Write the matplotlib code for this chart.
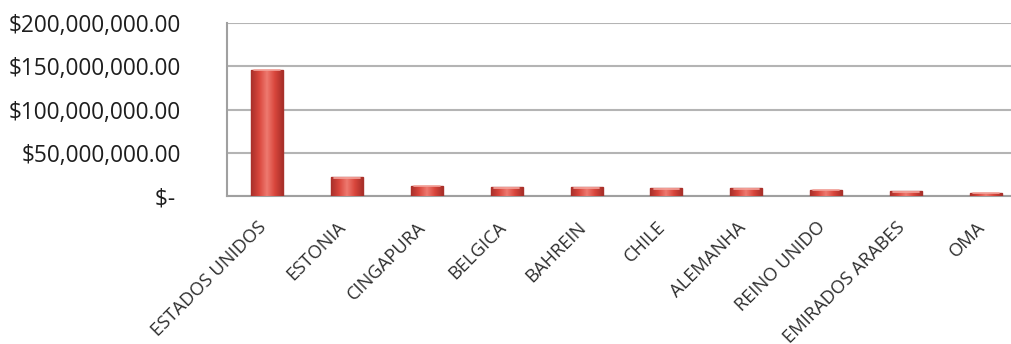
import numpy as np
import matplotlib.pyplot as plt
from matplotlib.colors import LinearSegmentedColormap

paises = ["ESTADOS UNIDOS", "ESTONIA", "CINGAPURA", "BELGICA", "BAHREIN",
          "CHILE", "ALEMANHA", "REINO UNIDO", "EMIRADOS ARABES", "OMA"]
valores = [146e6, 22e6, 12e6, 10.5e6, 10.5e6, 9.5e6, 9e6, 7.5e6, 6e6, 4e6]
yticks = [0, 50e6, 100e6, 150e6, 200e6]
yticklabels = ["$- ", "$50,000,000.00", "$100,000,000.00",
               "$150,000,000.00", "$200,000,000.00"]

plt.rcParams['font.family'] = ['Open Sans', 'DejaVu Sans']

fig = plt.figure(figsize=(10.12, 3.44), dpi=100)
ax = fig.add_axes([0.2243, 0.430, 0.7895, 0.503])

x = np.arange(len(paises))
bars = ax.bar(x, valores, width=0.4, color="#d8473d", edgecolor="#a8312b",
              linewidth=1.0, zorder=3)

# shaded fill for each bar: darker sides, lighter middle
cmap = LinearSegmentedColormap.from_list(
    "barra", ["#a9302a", "#d9463c", "#ee7a70", "#d9463c", "#a9302a"])
grad = np.linspace(0, 1, 64).reshape(1, -1)
for b in bars:
    x0, w, h = b.get_x(), b.get_width(), b.get_height()
    im = ax.imshow(grad, cmap=cmap, aspect="auto", zorder=3.5,
                   extent=[x0, x0 + w, 0, h])
    im.set_clip_path(b)
    # lighter rim along the top
    ax.plot([x0 + w * 0.1, x0 + w * 0.9], [h - 0.8e6, h - 0.8e6],
            color="#f4a49c", lw=1.2, zorder=4, solid_capstyle="round")

ax.set_xlim(-0.5, len(paises) - 0.5)
ax.set_ylim(0, 200e6)
ax.set_yticks(yticks)
ax.set_yticklabels(yticklabels, fontsize=16.3, color="#1e1e1e")
ax.set_xticks(x)
ax.set_xticklabels(paises, rotation=45, ha="right", va="baseline",
                   rotation_mode="anchor", fontsize=13.2, color="#2e2e2e")

ax.grid(axis="y", color="#b4b4b4", lw=1.5, zorder=0)
ax.tick_params(axis="y", length=0, pad=33)
ax.tick_params(axis="x", length=0, pad=23)
for s in ["top", "right"]:
    ax.spines[s].set_visible(False)
ax.spines["left"].set_color("#a0a0a0")
ax.spines["bottom"].set_color("#a0a0a0")
ax.spines["left"].set_linewidth(1.5)
ax.spines["bottom"].set_linewidth(1.5)

fig.savefig("out.png", dpi=100)
